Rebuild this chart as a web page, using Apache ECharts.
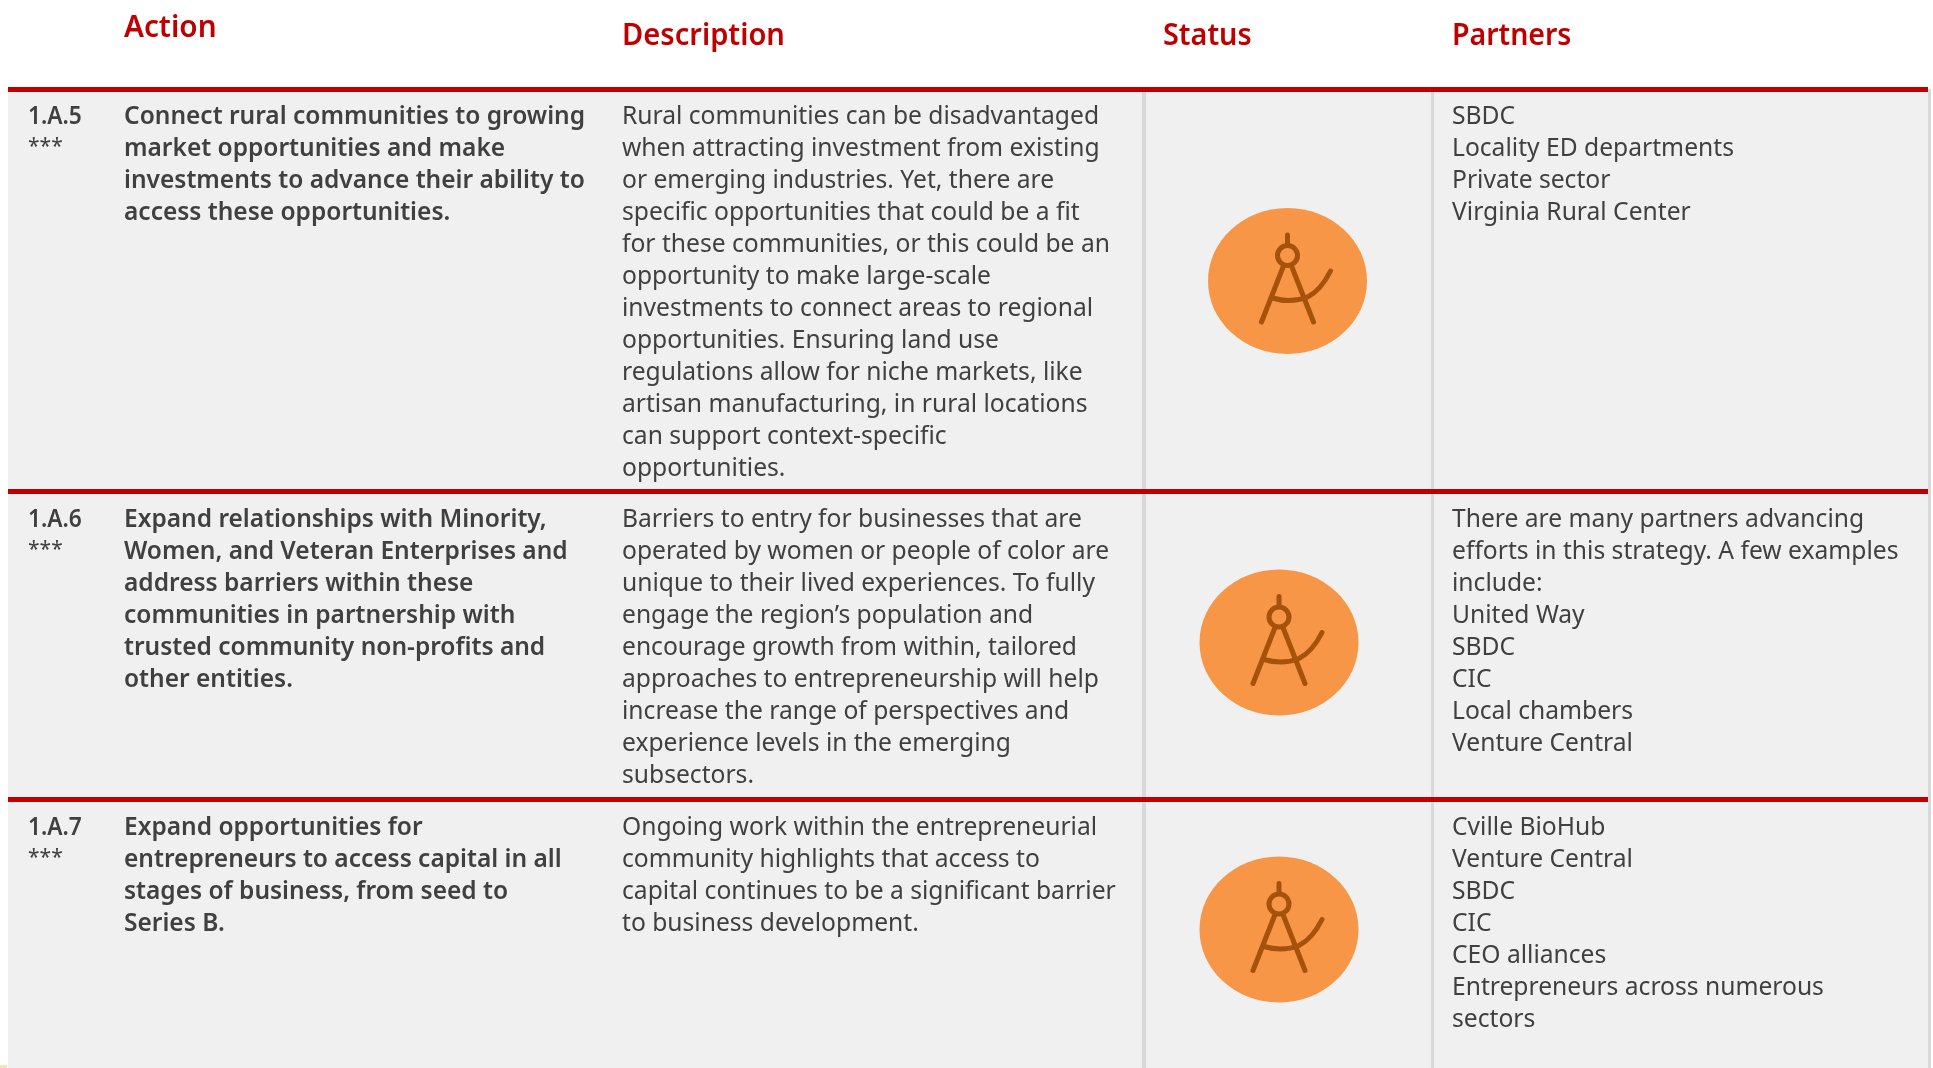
<!DOCTYPE html>
<html>
<head>
    <meta charset="utf-8">
    <title>ECharts</title>
    <script src="https://cdn.jsdelivr.net/npm/echarts@6/dist/echarts.min.js"></script>
</head>
<body style="margin:0;background-color:#fff">
<div id="main" style="width:1933px;height:1068px"></div>
<script type="text/javascript">
    var headers = ['Action', 'Description', 'Status', 'Partners'];
    var rowIds = ['1.A.5', '1.A.6', '1.A.7'];
    var rowStars = ['***', '***', '***'];
    var actions = [
        'Connect rural communities to growing\nmarket opportunities and make\ninvestments to advance their ability to\naccess these opportunities.',
        'Expand relationships with Minority,\nWomen, and Veteran Enterprises and\naddress barriers within these\ncommunities in partnership with\ntrusted community non-profits and\nother entities.',
        'Expand opportunities for\nentrepreneurs to access capital in all\nstages of business, from seed to\nSeries B.'
    ];
    var descriptions = [
        'Rural communities can be disadvantaged\nwhen attracting investment from existing\nor emerging industries. Yet, there are\nspecific opportunities that could be a fit\nfor these communities, or this could be an\nopportunity to make large-scale\ninvestments to connect areas to regional\nopportunities. Ensuring land use\nregulations allow for niche markets, like\nartisan manufacturing, in rural locations\ncan support context-specific\nopportunities.',
        'Barriers to entry for businesses that are\noperated by women or people of color are\nunique to their lived experiences. To fully\nengage the region\u2019s population and\nencourage growth from within, tailored\napproaches to entrepreneurship will help\nincrease the range of perspectives and\nexperience levels in the emerging\nsubsectors.',
        'Ongoing work within the entrepreneurial\ncommunity highlights that access to\ncapital continues to be a significant barrier\nto business development.'
    ];
    var partners = [
        'SBDC\nLocality ED departments\nPrivate sector\nVirginia Rural Center',
        'There are many partners advancing\nefforts in this strategy. A few examples\ninclude:\nUnited Way\nSBDC\nCIC\nLocal chambers\nVenture Central',
        'Cville BioHub\nVenture Central\nSBDC\nCIC\nCEO alliances\nEntrepreneurs across numerous\nsectors'
    ];

    // page layout, in picture pixels
    var rowTops = [89, 491, 799, 1068];
    var statusCentre = [[1287.5, 281], [1279, 642.5], [1279, 929.5]];
    var fontName = '"Noto Sans", sans-serif';
    var grey = '#404040';
    var red = '#c00000';

    var myChart = echarts.init(document.getElementById('main'));

    function txt(api, x, y, text, size, weight, color, lineHeight, scaleX) {
        var p = api.coord([x, y]);
        return {
            type: 'text',
            x: p[0],
            y: p[1],
            scaleX: scaleX || 1,
            style: {
                text: text,
                font: weight + ' ' + size + 'px ' + fontName,
                fill: color,
                lineHeight: lineHeight,
                textVerticalAlign: 'top'
            }
        };
    }

    function rect(api, x0, y0, x1, y1, color) {
        var a = api.coord([x0, y0]);
        var b = api.coord([x1, y1]);
        return {
            type: 'rect',
            shape: {x: a[0], y: a[1], width: b[0] - a[0], height: b[1] - a[1]},
            style: {fill: color}
        };
    }

    function statusIcon(api, cx, cy) {
        var c = api.coord([cx, cy]);
        var stroke = {stroke: '#a5520a', fill: null, lineWidth: 5, lineCap: 'round'};
        return {
            type: 'group',
            x: c[0],
            y: c[1],
            children: [
                {type: 'ellipse', shape: {cx: 0, cy: 0, rx: 79.5, ry: 73}, style: {fill: '#f79646'}},
                {type: 'circle', shape: {cx: 0, cy: -25.5, r: 10}, style: stroke},
                {type: 'line', shape: {x1: 0, y1: -46, x2: 0, y2: -36}, style: stroke},
                {type: 'line', shape: {x1: -4, y1: -15, x2: -26, y2: 41}, style: stroke},
                {type: 'line', shape: {x1: 4, y1: -15, x2: 26, y2: 41}, style: stroke},
                {type: 'path', shape: {pathData: 'M-15,17 C-2,21 10,20 20,16 C28,12 36,4 43,-10'}, style: stroke}
            ]
        };
    }

    function renderRow(params, api) {
        var i = params.dataIndex;
        var top = rowTops[i];
        var bottom = rowTops[i + 1];
        var children = [
            rect(api, 8, top, 1928, bottom, '#f0f0f0'),
            rect(api, 1142, top, 1146, bottom, '#d9d9d9'),
            rect(api, 1431, top, 1434, bottom, '#d9d9d9'),
            rect(api, 1928, top, 1931, bottom, '#d9d9d9'),
            rect(api, 8, top - 2, 1928, top + 3, red)
        ];
        var y = top + (i === 0 ? 12 : 13);
        children.push(txt(api, 28, y, rowIds[i], 25, 600, grey, 32, 0.91));
        children.push(txt(api, 28, y + 34, rowStars[i], 21, 400, grey, 24, 1));
        children.push(txt(api, 124, y, actions[i], 25, 600, grey, 32, 0.98));
        children.push(txt(api, 622, y, descriptions[i], 25, 400, grey, 32, 0.985));
        children.push(txt(api, 1452, y, partners[i], 25, 400, grey, 32, 0.985));
        children.push(statusIcon(api, statusCentre[i][0], statusCentre[i][1]));
        return {type: 'group', children: children};
    }

    var headerX = [124, 622, 1163, 1452];
    var headerY = [9, 17, 17, 17];
    var headerScale = [0.99, 0.97, 0.96, 0.95];

    function renderHeader(params, api) {
        var i = params.dataIndex;
        return txt(api, headerX[i], headerY[i], headers[i], 30, 600, red, 38, headerScale[i]);
    }

    // small yellow remnant in the bottom left corner of the picture
    function renderCorner(params, api) {
        return rect(api, 0, 1065, 7, 1068, '#f7e3ab');
    }

    var option = {
        animation: false,
        grid: {left: 0, right: 0, top: 0, bottom: 0},
        xAxis: {type: 'value', min: 0, max: 1933, show: false},
        yAxis: {type: 'value', min: 0, max: 1068, inverse: true, show: false},
        series: [
            {type: 'custom', silent: true, coordinateSystem: 'cartesian2d', renderItem: renderRow, data: rowIds.map(function (d, i) { return [0, i]; })},
            {type: 'custom', silent: true, coordinateSystem: 'cartesian2d', renderItem: renderHeader, data: headers.map(function (d, i) { return [0, i]; })},
            {type: 'custom', silent: true, coordinateSystem: 'cartesian2d', renderItem: renderCorner, data: [[0, 0]]}
        ]
    };
    myChart.setOption(option);
</script>
</body>
</html>
